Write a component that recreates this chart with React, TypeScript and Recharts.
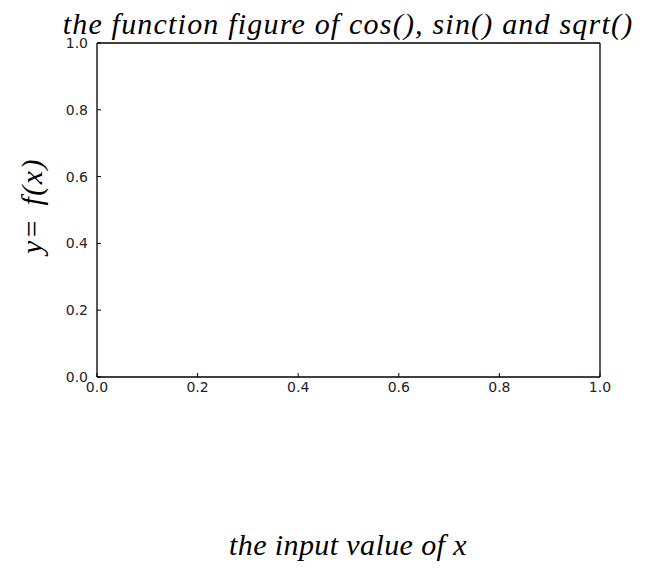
import { LineChart, Line, XAxis, YAxis } from "recharts";

// empty figure: the axes exist but nothing is plotted yet
const xTicks = [0, 0.2, 0.4, 0.6, 0.8, 1.0];
const yTicks = [0, 0.2, 0.4, 0.6, 0.8, 1.0];
const yValues: (number | null)[] = [null, null, null, null, null, null];

const data = xTicks.map((x, i) => ({ x, y: yValues[i] }));

const titleText = "the function figure of cos(), sin() and sqrt()";
const xLabelText = "the input value of x";
const yLabelText = "y= f(x)";

const fmt = (v: number) => v.toFixed(1);
const tickStyle = { fill: "#222", fontSize: 14, fontFamily: "DejaVu Sans" };
const serif = "'Liberation Serif', 'DejaVu Serif', serif";
const frame = { stroke: "#000", strokeWidth: 1.3 };

const App = () => {
  return (
    <div style={{ position: "absolute", left: 0, top: 0, width: 655, height: 570, background: "#fff" }}>
      <LineChart width={655} height={570} data={data} margin={{ top: 42, right: 54, bottom: 173, left: 37 }}>
        <XAxis
          type="number"
          dataKey="x"
          domain={[0, 1]}
          allowDataOverflow
          ticks={xTicks}
          interval={0}
          tickFormatter={fmt}
          height={20}
          tickSize={-4}
          tickMargin={9}
          tick={tickStyle}
          axisLine={frame}
          tickLine={{ stroke: "#000" }}
        />
        <XAxis
          xAxisId="top"
          orientation="top"
          type="number"
          dataKey="x"
          domain={[0, 1]}
          allowDataOverflow
          ticks={xTicks}
          interval={0}
          height={1}
          tickSize={-4}
          tick={false}
          axisLine={frame}
          tickLine={{ stroke: "#000" }}
        />
        <YAxis
          type="number"
          domain={[0, 1]}
          allowDataOverflow
          ticks={yTicks}
          interval={0}
          tickFormatter={fmt}
          width={60}
          tickSize={-4}
          tickMargin={13}
          tick={tickStyle}
          axisLine={frame}
          tickLine={{ stroke: "#000" }}
        />
        <YAxis
          yAxisId="right"
          orientation="right"
          type="number"
          domain={[0, 1]}
          allowDataOverflow
          ticks={yTicks}
          interval={0}
          width={1}
          tickSize={-4}
          tick={false}
          axisLine={frame}
          tickLine={{ stroke: "#000" }}
        />
        <Line dataKey="y" stroke="#0000ff" dot={false} isAnimationActive={false} />
        <Line dataKey="y" xAxisId="top" yAxisId="right" stroke="#0000ff" dot={false} isAnimationActive={false} />
      </LineChart>
      <div
        style={{
          position: "absolute",
          left: 348,
          top: 8,
          transform: "translateX(-50%)",
          whiteSpace: "nowrap",
          fontFamily: serif,
          fontStyle: "italic",
          fontSize: 30,
          letterSpacing: 1.2,
          lineHeight: "32px",
          color: "#000",
        }}
      >
        {titleText}
      </div>
      <div
        style={{
          position: "absolute",
          left: 348,
          top: 529,
          transform: "translateX(-50%)",
          whiteSpace: "nowrap",
          fontFamily: serif,
          fontStyle: "italic",
          fontSize: 30,
          letterSpacing: 0.4,
          lineHeight: "32px",
          color: "#000",
        }}
      >
        {xLabelText}
      </div>
      <div
        style={{
          position: "absolute",
          left: 32,
          top: 206,
          transform: "translate(-50%, -50%) rotate(-90deg)",
          whiteSpace: "nowrap",
          fontFamily: serif,
          fontStyle: "italic",
          fontSize: 30,
          letterSpacing: 1.5,
          wordSpacing: 3,
          lineHeight: "32px",
          color: "#000",
        }}
      >
        {yLabelText}
      </div>
    </div>
  );
};

export default App;
